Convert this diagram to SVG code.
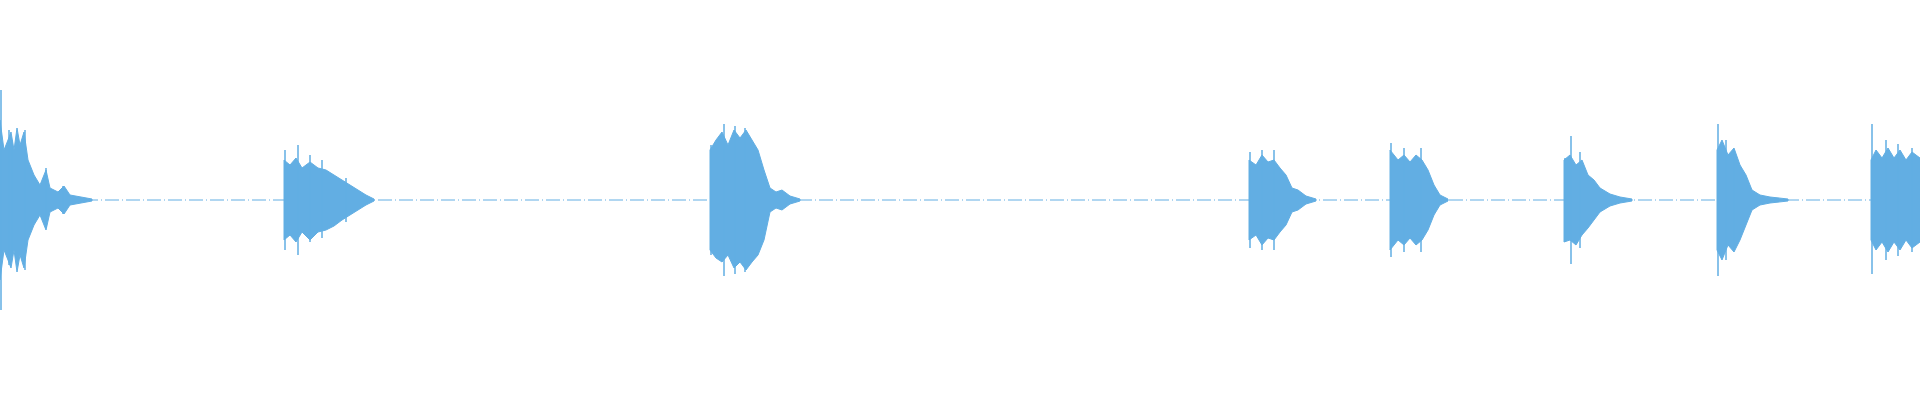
<svg xmlns="http://www.w3.org/2000/svg" width="1920" height="400" viewBox="0 0 1920 400">
<style>
.w{fill:#62aee3;stroke:#62aee3;stroke-width:1}
.s{stroke:#62aee3;stroke-width:1.5;fill:none}
.b{stroke:#62aee3;stroke-width:1;stroke-dasharray:14 3 1 3}
</style>
<rect width="1920" height="400" fill="#fff"/>
<line class="b" x1="0" y1="200" x2="1920" y2="200"/>
<g id="burst1">
<path class="w" d="M0,120 L4,150 L8,140 L11,132 L14,150 L17,128 L20,145 L24,132 L28,160 L34,175 L40,185 L46,170 L50,188 L58,192 L64,186 L70,195 L92,199 L92,201 L70,205 L64,214 L58,208 L50,212 L46,230 L40,215 L34,225 L28,240 L24,268 L20,255 L17,272 L14,250 L11,268 L8,260 L4,250 L0,280 Z"/>
<path class="s" d="M1,90V310 M9,130V265 M12,140V255 M25,130V270 M46,168V228 M63,186V214"/>
</g>
<g id="burst2">
<path class="w" d="M284,160 L290,165 L296,158 L302,168 L310,162 L318,168 L326,170 L334,175 L342,180 L350,185 L358,190 L366,195 L374,199 L374,201 L366,205 L358,210 L350,215 L342,220 L334,226 L326,230 L318,232 L310,240 L302,232 L296,242 L290,235 L284,240 Z"/>
<path class="s" d="M285,150V250 M298,145V255 M310,155V242 M322,160V238 M346,178V222"/>
</g>
<g id="burst3">
<path class="w" d="M710,150 L716,140 L722,132 L728,145 L734,130 L740,138 L746,130 L752,140 L758,150 L764,170 L770,188 L776,192 L782,190 L790,196 L800,199 L800,201 L790,204 L782,210 L776,208 L770,212 L764,240 L758,255 L752,262 L746,270 L740,262 L734,268 L728,255 L722,262 L716,258 L710,250 Z"/>
<path class="s" d="M711,145V255 M724,124V276 M735,126V274 M745,128V272"/>
</g>
<g id="burst4">
<path class="w" d="M1249,160 L1256,165 L1262,155 L1268,162 L1274,160 L1280,168 L1286,175 L1292,188 L1298,190 L1306,196 L1316,199 L1316,201 L1306,204 L1298,210 L1292,212 L1286,225 L1280,232 L1274,240 L1268,238 L1262,245 L1256,235 L1249,240 Z"/>
<path class="s" d="M1250,152V248 M1262,150V250 M1274,150V250"/>
</g>
<g id="burst5">
<path class="w" d="M1390,150 L1398,160 L1404,155 L1410,162 L1416,155 L1422,160 L1428,170 L1434,185 L1440,195 L1448,199 L1448,201 L1440,205 L1434,215 L1428,230 L1422,240 L1416,245 L1410,238 L1404,245 L1398,240 L1390,250 Z"/>
<path class="s" d="M1391,143V257 M1404,148V252 M1421,148V252"/>
</g>
<g id="burst6">
<path class="w" d="M1564,160 L1570,155 L1576,165 L1582,160 L1588,175 L1594,180 L1600,188 L1610,194 L1620,197 L1632,199 L1632,201 L1620,203 L1610,206 L1600,212 L1594,220 L1588,228 L1582,235 L1576,245 L1570,240 L1564,242 Z"/>
<path class="s" d="M1565,158V242 M1571,136V264 M1580,152V248"/>
</g>
<g id="burst7">
<path class="w" d="M1717,150 L1722,140 L1728,155 L1734,148 L1740,165 L1746,175 L1752,190 L1760,195 L1770,197 L1788,199 L1788,201 L1770,203 L1760,205 L1752,210 L1746,225 L1740,240 L1734,252 L1728,245 L1722,260 L1717,250 Z"/>
<path class="s" d="M1718,124V276 M1726,140V260 M1734,150V250"/>
</g>
<g id="burst8">
<path class="w" d="M1871,160 L1876,150 L1882,158 L1888,148 L1894,158 L1900,150 L1906,160 L1912,152 L1920,158 L1920,242 L1912,248 L1906,240 L1900,250 L1894,242 L1888,252 L1882,242 L1876,250 L1871,240 Z"/>
<path class="s" d="M1872,124V274 M1886,140V260 M1898,144V256 M1912,148V252"/>
</g>
</svg>
